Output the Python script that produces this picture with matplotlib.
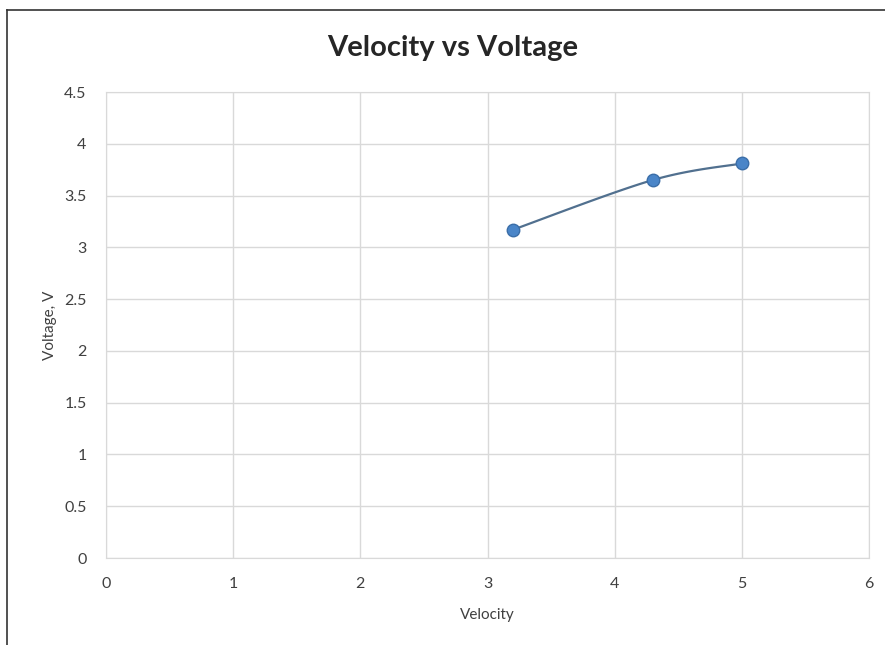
import numpy as np
import matplotlib.pyplot as plt
from matplotlib.lines import Line2D

# Datos
velocidad = [3.2, 4.3, 5.0]
voltaje = [3.17, 3.65, 3.81]
x_ticks = [0, 1, 2, 3, 4, 5, 6]
y_ticks = [0, 0.5, 1, 1.5, 2, 2.5, 3, 3.5, 4, 4.5]


def suavizar(xs, ys, n=40):
    # Curva Catmull-Rom entre los puntos (como la línea suavizada de Excel)
    p = np.column_stack([xs, ys]).astype(float)
    p = np.vstack([p[0], p, p[-1]])
    out = []
    for i in range(1, len(p) - 2):
        p0, p1, p2, p3 = p[i - 1], p[i], p[i + 1], p[i + 2]
        c1 = p1 + (p2 - p0) / 6
        c2 = p2 - (p3 - p1) / 6
        t = np.linspace(0, 1, n)[:, None]
        b = ((1 - t) ** 3) * p1 + 3 * ((1 - t) ** 2) * t * c1 \
            + 3 * (1 - t) * t ** 2 * c2 + t ** 3 * p2
        out.append(b)
    c = np.vstack(out)
    return c[:, 0], c[:, 1]


plt.rcParams['font.family'] = ['Lato', 'DejaVu Sans']

fig = plt.figure(figsize=(8.85, 6.45), dpi=100)
ax = fig.add_axes([106 / 885, 87 / 645, 763 / 885, 466 / 645])

sx, sy = suavizar(velocidad, voltaje)
ax.plot(sx, sy, color='#51708f', lw=1.6, zorder=3)
ax.plot(velocidad, voltaje, 'o', ms=9, color='#4a85c8',
        markeredgecolor='#3b6ea8', markeredgewidth=1, zorder=4)

ax.set_xlim(0, 6)
ax.set_ylim(0, 4.5)
ax.set_xticks(x_ticks)
ax.set_yticks(y_ticks)
ax.set_yticklabels([f"{v:g}" for v in y_ticks])
ax.grid(True, color='#d9d9d9', lw=1)
ax.set_axisbelow(True)
ax.tick_params(length=0, labelsize=11.5, colors='#404040')
ax.tick_params(axis='x', pad=14)
ax.tick_params(axis='y', pad=14)
for s in ax.spines.values():
    s.set_color('#d9d9d9')

ax.set_xlabel('Velocity', fontsize=11, color='#404040', labelpad=12)
ax.set_ylabel('Voltage, V', fontsize=11, color='#404040', labelpad=5)
fig.text(453 / 885, 1 - 48 / 645, 'Velocity vs Voltage', fontsize=21,
         fontweight='bold', color='#262626', ha='center', va='center')

# Marco exterior (sólo arriba e izquierda)
fig.add_artist(Line2D([7 / 885, 1], [1 - 10 / 645] * 2, color='#333333', lw=1.2))
fig.add_artist(Line2D([7 / 885] * 2, [0, 1 - 10 / 645], color='#333333', lw=1.2))

plt.savefig('out.png')
